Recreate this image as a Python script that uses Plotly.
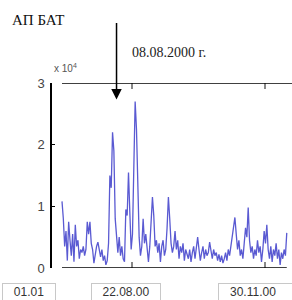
import pandas as pd
import plotly.graph_objects as go

# ---- data ----
start_date = "2000-06-30"
values = [
    1.08, 0.8, 0.35, 0.6, 0.12, 0.75, 0.45, 0.2, 0.55, 0.1,
    0.7, 0.35, 0.45, 0.15, 0.3, 0.25, 0.35, 0.2, 0.3, 0.75,
    0.55, 0.75, 0.4, 0.3, 0.08, 0.25, 0.35, 0.42, 0.3, 0.18,
    0.3, 0.12, 0.2, 0.05, 0.12, 0.4, 1.5, 1.3, 2.2, 1.9,
    0.8, 0.45, 0.25, 0.5, 0.2, 0.35, 0.15, 0.1, 0.95, 0.85,
    1.55, 0.9, 0.3, 0.55, 1.5, 2.7, 2.25, 1.2, 0.5, 0.2,
    0.35, 0.8, 0.4, 0.55, 0.25, 0.1, 0.35, 0.75, 1.15, 0.85,
    0.35, 0.45, 0.25, 0.4, 0.1, 0.35, 0.45, 0.2, 0.3, 0.65,
    1.15, 0.8, 0.4, 0.25, 0.35, 0.6, 0.3, 0.45, 0.15, 0.35,
    0.25, 0.4, 0.12, 0.3, 0.2, 0.15, 0.3, 0.1, 0.25, 0.35,
    0.15, 0.3, 0.5, 0.3, 0.12, 0.25, 0.35, 0.15, 0.3, 0.2,
    0.25, 0.42, 0.25, 0.15, 0.3, 0.2, 0.25, 0.12, 0.22, 0.1,
    0.2, 0.08, 0.15, 0.25, 0.12, 0.3, 0.2, 0.35, 0.5, 0.65,
    0.82, 0.55, 0.3, 0.45, 0.2, 0.3, 0.15, 0.4, 0.65, 0.5,
    0.98, 0.45, 0.25, 0.35, 0.15, 0.3, 0.2, 0.45, 0.25, 0.35,
    0.1, 0.3, 0.6, 0.4, 0.7, 0.3, 0.15, 0.35, 0.1, 0.3,
    0.2, 0.4, 0.15, 0.3, 0.05, 0.25, 0.15, 0.3, 0.2, 0.57,
]
dates = pd.date_range(start_date, periods=len(values), freq="D")
marker_dates = ["2000-08-22", "2000-11-30"]
event_date = "2000-08-10"
event_label = "08.08.2000 г."
title_text = "АП БАТ"
y_ticks = [0, 1, 2, 3]
y_ticktext = ["0", "1", "2", "3"]
box_labels = ["01.01", "22.08.00", "30.11.00"]

# ---- layout constants ----
W, H = 292, 300
ml, mr, mt, mb = 52, 0, 83, 32
px_per_day = 1.33
left_pad_days = 10 / px_per_day
plot_days = (W - ml - mr) / px_per_day
x0 = dates[0] - pd.Timedelta(days=left_pad_days)
x1 = x0 + pd.Timedelta(days=plot_days)

fig = go.Figure()
fig.add_trace(go.Scatter(
    x=dates, y=values, mode="lines",
    line=dict(color="rgb(90,90,210)", width=1.3),
    hoverinfo="skip", showlegend=False,
))

fig.update_layout(
    width=W, height=H,
    margin=dict(l=ml, r=mr, t=mt, b=mb, autoexpand=False),
    paper_bgcolor="white", plot_bgcolor="white",
    xaxis=dict(
        type="date", range=[x0, x1], showgrid=False, zeroline=False,
        showline=False, tickvals=marker_dates, ticks="inside", ticklen=6,
        tickcolor="#888", tickwidth=1.5, showticklabels=False, mirror="ticks",
    ),
    yaxis=dict(
        range=[0, 3], showgrid=False, zeroline=False, showline=True,
        linecolor="black", linewidth=1.5, ticks="inside", ticklen=3,
        tickcolor="black", tickvals=y_ticks, ticktext=y_ticktext,
        tickfont=dict(family="Liberation Sans", size=13, color="#444"),
        ticklabelstandoff=3,
    ),
    font=dict(family="Liberation Sans"),
)

# bottom and top frame lines
fig.add_shape(type="line", xref="x", yref="y", x0=dates[0], x1=dates[-1],
              y0=0, y1=0, line=dict(color="black", width=1.5))
fig.add_shape(type="line", xref="x", yref="y", x0=dates[0], x1=x1,
              y0=3, y1=3, line=dict(color="black", width=1.5))

# scale factor label
fig.add_annotation(xref="paper", yref="paper", x=0.0, y=1.0, yshift=15,
                   xanchor="left", yanchor="middle", showarrow=False,
                   text="x 10<sup>4</sup>",
                   font=dict(family="Liberation Sans", size=10, color="#555"))

# title and event text
fig.add_annotation(xref="paper", yref="paper", x=(10 - ml) / (W - ml - mr),
                   y=1.0, yshift=63, xanchor="left", yanchor="middle",
                   showarrow=False, text=title_text,
                   font=dict(family="Liberation Serif", size=15, color="#111"))
fig.add_annotation(xref="paper", yref="paper", x=(130 - ml) / (W - ml - mr),
                   y=1.0, yshift=31, xanchor="left", yanchor="middle",
                   showarrow=False, text=event_label,
                   font=dict(family="Liberation Serif", size=14, color="#222"))

# arrow
fig.add_annotation(x=event_date, y=(268 - 100) / 61.5, xref="x", yref="y",
                   text=" ", showarrow=True, axref="pixel", ayref="pixel",
                   ax=0, ay=-85, arrowhead=2, arrowsize=1.4, arrowwidth=1.5,
                   arrowcolor="black")

# boxed date labels under the chart
box_x = [29, 126, 260]
box_w = [50, 66, 80]
box_align = ["center", "center", "left"]
for lab, bx, bw, al in zip(box_labels, box_x, box_w, box_align):
    fig.add_annotation(xref="paper", yref="paper", x=(bx - ml) / (W - ml - mr),
                       y=0, yshift=-24, xanchor="center", yanchor="middle",
                       showarrow=False, text=("   " + lab) if al == "left" else lab,
                       align=al,
                       font=dict(family="Liberation Sans", size=12, color="#333"),
                       bordercolor="#c8c8c8", borderwidth=1, borderpad=1,
                       bgcolor="white", width=bw)

fig.write_html("out.html", config={"displayModeBar": False},
               post_script="document.body.style.margin='0';document.body.style.overflow='hidden';")
